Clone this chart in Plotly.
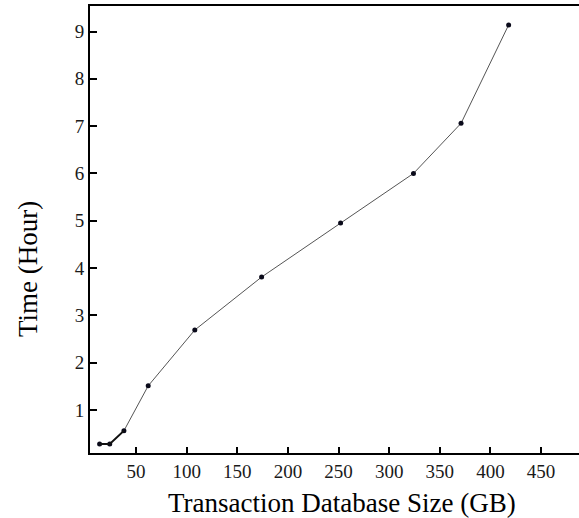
import plotly.graph_objects as go

size_gb = [14, 24, 38, 62, 108, 174, 252, 324, 371, 418]
time_hr = [0.28, 0.28, 0.56, 1.51, 2.69, 3.81, 4.95, 6.0, 7.06, 9.14]
x_ticks = [50, 100, 150, 200, 250, 300, 350, 400, 450]
y_ticks = [1, 2, 3, 4, 5, 6, 7, 8, 9]

FONT = "Liberation Serif"

fig = go.Figure()
fig.add_trace(go.Scatter(
    x=size_gb, y=time_hr, mode="lines+markers",
    line=dict(color="#555555", width=1),
    marker=dict(color="#0a0a1a", size=5),
    showlegend=False,
))
fig.add_trace(go.Scatter(
    x=size_gb[:3], y=time_hr[:3], mode="lines",
    line=dict(color="#111111", width=1.8),
    showlegend=False,
))

fig.update_layout(
    width=579, height=518,
    margin=dict(l=90, r=0, t=6, b=65),
    paper_bgcolor="white", plot_bgcolor="white",
    font=dict(family=FONT, color="black", size=19),
    xaxis=dict(
        range=[4.5, 487.5], tickvals=x_ticks, ticktext=[str(v) for v in x_ticks],
        showline=True, linecolor="black", linewidth=2, mirror=True,
        ticks="inside", ticklen=6, tickwidth=2, tickcolor="black",
        showgrid=False, zeroline=False,
        tickfont=dict(family=FONT, size=19, color="#1a1a1a"),
    ),
    yaxis=dict(
        range=[0.09, 9.54], tickvals=y_ticks, ticktext=[str(v) for v in y_ticks],
        showline=True, linecolor="black", linewidth=2,
        ticks="inside", ticklen=7, tickwidth=2, tickcolor="black",
        showgrid=False, zeroline=False,
        tickfont=dict(family=FONT, size=19, color="#1a1a1a"),
    ),
    annotations=[
        dict(text="Transaction Database Size (GB)", xref="paper", yref="paper",
             x=(342 - 90) / 489, y=-(503 - 453) / 447, showarrow=False,
             xanchor="center", yanchor="middle",
             font=dict(family=FONT, size=27, color="black")),
        dict(text="Time (Hour)", xref="paper", yref="paper",
             x=-(90 - 28) / 489, y=(453 - 269) / 447, showarrow=False,
             xanchor="center", yanchor="middle", textangle=-90,
             font=dict(family=FONT, size=27, color="black")),
    ],
)

fig.write_html("out.html")
